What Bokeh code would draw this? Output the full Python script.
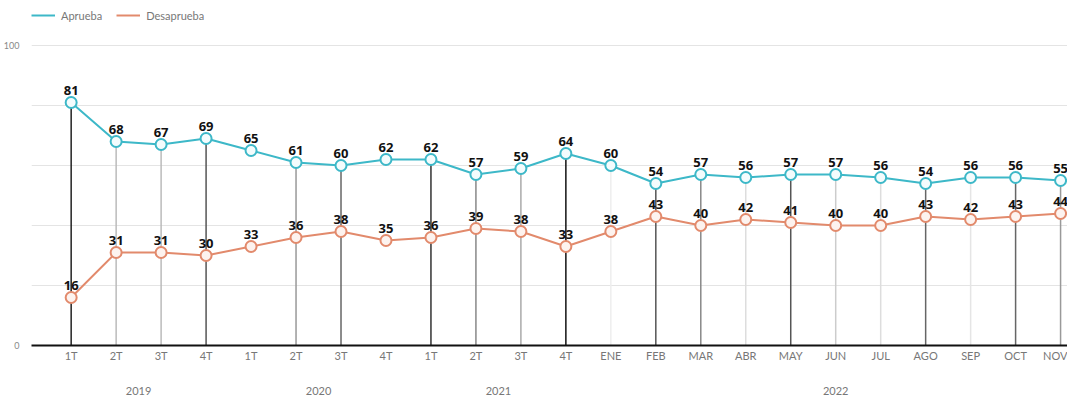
from bokeh.plotting import figure
from bokeh.layouts import column
from bokeh.models import (ColumnDataSource, Range1d, FixedTicker, LinearAxis,
                          Legend, LegendItem)
from bokeh.embed import file_html
from bokeh.resources import INLINE
from bokeh.core.properties import value

# ---------------- data ----------------
years = ["2019", "2020", "2021", "2022"]
periods = ["1T", "2T", "3T", "4T",
           "1T", "2T", "3T", "4T",
           "1T", "2T", "3T", "4T",
           "ENE", "FEB", "MAR", "ABR", "MAY", "JUN", "JUL", "AGO", "SEP", "OCT", "NOV"]
period_year = ["2019"] * 4 + ["2020"] * 4 + ["2021"] * 4 + ["2022"] * 11
series_names = ["Aprueba", "Desaprueba"]
aprueba = [81, 68, 67, 69, 65, 61, 60, 62, 62, 57, 59, 64,
           60, 54, 57, 56, 57, 57, 56, 54, 56, 56, 55]
desaprueba = [16, 31, 31, 30, 33, 36, 38, 35, 36, 39, 38, 33,
              38, 43, 40, 42, 41, 40, 40, 43, 42, 43, 44]

# ---------------- styles ----------------
C_AP = "#3db8c8"
C_DE = "#e28a6c"
drop_colors = ["#222222", "#bbbbbb", "#bbbbbb", "#555555", "#ffffff", "#999999",
               "#666666", "#ffffff", "#333333", "#888888", "#aaaaaa", "#111111",
               "#eeeeee", "#555555", "#888888", "#dddddd", "#555555", "#cccccc",
               "#dddddd", "#666666", "#e5e5e5", "#666666", "#999999"]
drop_alpha = [1, 1, 1, 1, 0, 1, 1, 0, 1, 1, 1, 1,
              1, 1, 1, 1, 1, 1, 1, 1, 1, 1, 1]
FONT = "Lato"
LBL_FONT = "Open Sans"

idx = list(range(len(periods)))
src = ColumnDataSource(dict(
    x=idx, ap=aprueba, de=desaprueba,
    ap_txt=[str(v) for v in aprueba], de_txt=[str(v) for v in desaprueba],
    zero=[0] * len(idx), dc=drop_colors, da=drop_alpha,
))

W = 1067
LEG_H = 22
H = 397 - LEG_H

# ---------------- legend strip ----------------
lg = figure(width=W, height=LEG_H, output_backend="svg", toolbar_location=None,
            x_range=Range1d(0, 1), y_range=Range1d(0, 1),
            x_axis_location=None, y_axis_location=None,
            min_border_left=0, min_border_right=0, min_border_top=0,
            min_border_bottom=0)
lg.outline_line_color = None
lg.grid.visible = False
# off-range single points: renderers only feed the legend swatches
lg_ap = lg.line(x=[5], y=[5], line_color=C_AP, line_width=2)
lg_de = lg.line(x=[5], y=[5], line_color=C_DE, line_width=2)
legend = Legend(items=[LegendItem(label=series_names[0], renderers=[lg_ap]),
                       LegendItem(label=series_names[1], renderers=[lg_de])],
                location=(0, 0), orientation="horizontal",
                padding=0, margin=0, spacing=14, label_standoff=6,
                glyph_width=24, glyph_height=14, label_height=14,
                label_text_font=FONT, label_text_font_size="11px",
                label_text_color="#777777",
                border_line_alpha=0, background_fill_alpha=0)
lg.add_layout(legend)

# ---------------- main chart ----------------
p = figure(width=W, height=H, output_backend="svg", toolbar_location=None,
           x_range=Range1d(-0.882, 22.154), y_range=Range1d(0, 105.0),
           min_border_left=22, min_border_right=0, min_border_top=8,
           min_border_bottom=51)
p.outline_line_color = None
p.background_fill_color = "white"
p.border_fill_color = "white"

# grid
p.xgrid.visible = False
p.ygrid.ticker = FixedTicker(ticks=[20, 40, 60, 80, 100])
p.ygrid.grid_line_color = "#e4e4e4"
p.ygrid.grid_line_width = 1

# y axis
ya = p.yaxis[0]
ya.ticker = FixedTicker(ticks=[0, 100])
ya.axis_line_color = None
ya.major_tick_line_color = None
ya.minor_tick_line_color = None
ya.major_tick_out = 0
ya.major_tick_in = 0
ya.minor_tick_out = 0
ya.major_label_standoff = 12
ya.major_label_text_font = FONT
ya.major_label_text_font_size = "9px"
ya.major_label_text_color = "#888888"

# x axis (periods)
xa = p.xaxis[0]
xa.ticker = FixedTicker(ticks=idx)
xa.major_label_overrides = {i: periods[i] for i in idx}
xa.axis_line_color = "#111111"
xa.axis_line_width = 2
xa.major_tick_line_color = None
xa.minor_tick_line_color = None
xa.major_tick_out = 0
xa.major_tick_in = 0
xa.minor_tick_out = 0
xa.major_label_standoff = 3
xa.major_label_text_font = FONT
xa.major_label_text_font_size = "11px"
xa.major_label_text_color = "#777777"

# year axis
centers = []
for y in years:
    ii = [i for i in idx if period_year[i] == y]
    centers.append(sum(ii) / len(ii))
ya2 = LinearAxis(ticker=FixedTicker(ticks=centers),
                 major_label_overrides={c: y for c, y in zip(centers, years)})
ya2.axis_line_color = None
ya2.major_tick_line_color = None
ya2.minor_tick_line_color = None
ya2.major_tick_out = 0
ya2.major_tick_in = 0
ya2.minor_tick_out = 0
ya2.major_label_standoff = 22
ya2.major_label_text_font = FONT
ya2.major_label_text_font_size = "11px"
ya2.major_label_text_color = "#777777"
p.add_layout(ya2, "below")

# drop lines
p.segment(x0="x", y0="zero", x1="x", y1="ap", source=src,
          line_color="dc", line_alpha="da", line_width=1.5)

# series
p.line("x", "ap", source=src, line_color=C_AP, line_width=2)
p.scatter("x", "ap", source=src, size=11, fill_color="#f4fcfd",
          line_color=C_AP, line_width=2)
p.line("x", "de", source=src, line_color=C_DE, line_width=2)
p.scatter("x", "de", source=src, size=11, fill_color="#fdf3ef",
          line_color=C_DE, line_width=2)

# labels
for col, txt in (("ap", "ap_txt"), ("de", "de_txt")):
    p.text("x", col, text=txt, source=src, text_align="center",
           text_baseline="alphabetic", y_offset=-12,
           text_font=value(LBL_FONT), text_font_style="bold",
           text_font_size="13px", text_color="#111111")

layout = column(lg, p, spacing=0)
open("out.html", "w").write(file_html(layout, INLINE))
